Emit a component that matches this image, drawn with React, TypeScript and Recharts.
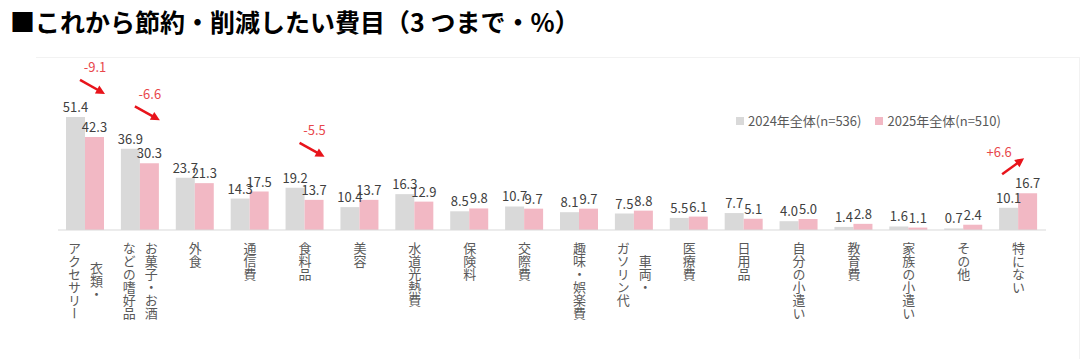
import React from 'react';
import { BarChart, Bar, XAxis, YAxis, LabelList } from 'recharts';

// 費目（改行の前が右の列）
const categories = [
  '衣類・\nアクセサリー',
  'お菓子・お酒\nなどの嗜好品',
  '外食',
  '通信費',
  '食料品',
  '美容',
  '水道光熱費',
  '保険料',
  '交際費',
  '趣味・娯楽費',
  '車両・\nガソリン代',
  '医療費',
  '日用品',
  '自分の小遣い',
  '教育費',
  '家族の小遣い',
  'その他',
  '特にない',
];
const values2024 = [51.4, 36.9, 23.7, 14.3, 19.2, 10.4, 16.3, 8.5, 10.7, 8.1, 7.5, 5.5, 7.7, 4.0, 1.4, 1.6, 0.7, 10.1];
const values2025 = [42.3, 30.3, 21.3, 17.5, 13.7, 13.7, 12.9, 9.8, 9.7, 9.7, 8.8, 6.1, 5.1, 5.0, 2.8, 1.1, 2.4, 16.7];
const seriesNames = ['2024年全体(n=536)', '2025年全体(n=510)'];
const changeNotes = [
  { category: categories[0], change: -9.1 },
  { category: categories[1], change: -6.6 },
  { category: categories[4], change: -5.5 },
  { category: categories[17], change: 6.6 },
];

const data = categories.map((name, i) => ({ name, y2024: values2024[i], y2025: values2025[i] }));

const FONT = '"Noto Sans CJK JP", "Noto Sans", sans-serif';
const GRAY = '#d9d9d9';
const PINK = '#f2b8c4';
const RED = '#e8141b';
const RED_TEXT = '#e8474c';

const fmt = (v: any) => Number(v).toFixed(1);

const VerticalTick = (props: any) => {
  const { x, y, payload } = props;
  const cols: string[] = String(payload.value).split('\n');
  const maxLen = Math.max(...cols.map((c) => c.length));
  const top = y + 4;
  const mid = top + (maxLen * 13) / 2;
  return (
    <g>
      {cols.map((c, i) => (
        <text
          key={i}
          x={x + ((cols.length - 1) / 2 - i) * 22}
          y={mid}
          textAnchor="middle"
          fill="#595959"
          fontSize={13}
          fontFamily={FONT}
          style={{ writingMode: 'vertical-rl' } as any}
        >
          {c}
        </text>
      ))}
    </g>
  );
};

const arrowHead = (x1: number, y1: number, x2: number, y2: number) => {
  const a = Math.atan2(y2 - y1, x2 - x1);
  const len = 9;
  const w = 4.5;
  const bx = x2 - len * Math.cos(a);
  const by = y2 - len * Math.sin(a);
  const px = -Math.sin(a) * w;
  const py = Math.cos(a) * w;
  return `${x2},${y2} ${bx + px},${by + py} ${bx - px},${by - py}`;
};

const ChangeNote = (props: any) => {
  const { x, y, width, index } = props;
  const note = changeNotes.find((n) => n.category === categories[index]);
  if (!note) return null;
  const rx = x + width;
  const label = (note.change > 0 ? '+' : '') + note.change.toFixed(1);
  let tx, ty, x1, y1, x2, y2;
  if (note.change < 0) {
    tx = rx - 9;
    ty = y - 70;
    x1 = rx - 24;
    y1 = y - 57;
    x2 = rx + 1;
    y2 = y - 43;
  } else {
    tx = rx - 38;
    ty = y - 42;
    x1 = rx - 35;
    y1 = y - 19;
    x2 = rx - 13;
    y2 = y - 35;
  }
  const a = Math.atan2(y2 - y1, x2 - x1);
  return (
    <g>
      <text x={tx} y={ty} textAnchor="middle" dominantBaseline="central" fill={RED_TEXT} fontSize={13} fontFamily={FONT}>
        {label}
      </text>
      <line x1={x1} y1={y1} x2={x2 - 6 * Math.cos(a)} y2={y2 - 6 * Math.sin(a)} stroke={RED} strokeWidth={2.5} />
      <polygon points={arrowHead(x1, y1, x2, y2)} fill={RED} />
    </g>
  );
};

export default function App() {
  return (
    <div style={{ position: 'fixed', left: 0, top: 0, width: 1087, height: 359, background: '#fff', fontFamily: FONT }}>
      <div
        style={{
          position: 'absolute',
          left: 10,
          top: 3,
          fontSize: 25,
          fontWeight: 700,
          color: '#000',
          whiteSpace: 'nowrap',
          lineHeight: '36px',
        }}
      >
        ■これから節約・削減したい費目（3 つまで・%）
      </div>
      <div
        style={{
          position: 'absolute',
          left: 36,
          top: 57,
          width: 1043,
          height: 302,
          borderTop: '1px solid #f2f2f2',
          borderRight: '1px solid #f2f2f2',
        }}
      />
      <div
        style={{
          position: 'absolute',
          left: 736,
          top: 112,
          display: 'flex',
          fontSize: 13,
          color: '#595959',
          lineHeight: '18px',
        }}
      >
        {seriesNames.map((n, i) => (
          <div key={n} style={{ display: 'flex', alignItems: 'center', marginRight: i === 0 ? 14 : 0 }}>
            <span style={{ width: 8, height: 8, background: i === 0 ? GRAY : PINK, marginRight: 4, display: 'inline-block' }} />
            <span>{n}</span>
          </div>
        ))}
      </div>
      <div style={{ position: 'absolute', left: 0, top: 0 }}>
        <BarChart width={1087} height={359} data={data} margin={{ top: 98, right: 41, left: 58, bottom: 0 }} barGap={0} barSize={19}>
          <XAxis
            dataKey="name"
            interval={0}
            height={129}
            tickLine={false}
            axisLine={{ stroke: GRAY }}
            tick={<VerticalTick />}
          />
          <YAxis hide domain={[0, 60]} />
          <Bar dataKey="y2024" name={seriesNames[0]} fill={GRAY} isAnimationActive={false}>
            <LabelList dataKey="y2024" position="top" offset={5} formatter={fmt} fill="#404040" fontSize={13} fontFamily={FONT} />
          </Bar>
          <Bar dataKey="y2025" name={seriesNames[1]} fill={PINK} isAnimationActive={false}>
            <LabelList dataKey="y2025" position="top" offset={5} formatter={fmt} fill="#404040" fontSize={13} fontFamily={FONT} />
            <LabelList dataKey="y2025" content={<ChangeNote />} />
          </Bar>
        </BarChart>
      </div>
    </div>
  );
}
